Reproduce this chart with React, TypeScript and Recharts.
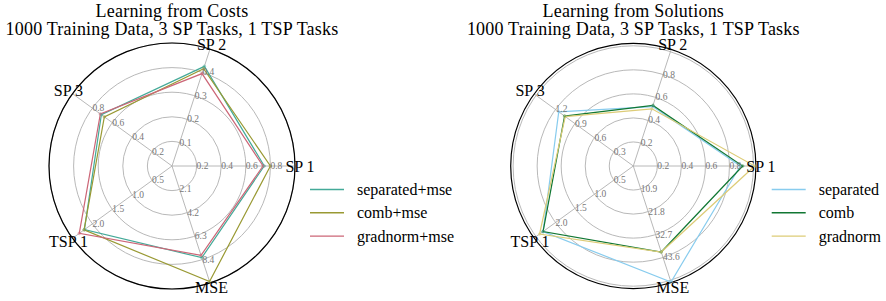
import React from "react";
import { RadarChart, Radar, PolarGrid, PolarAngleAxis, PolarRadiusAxis } from "recharts";

const categories = ["SP 1", "SP 2", "SP 3", "TSP 1", "MSE"];

// Learning from Costs
const costAxisMax = [1.0, 0.5, 1.0, 2.5, 10.5];
const costTickLabels = [
  ["0.2", "0.4", "0.6", "0.8"],
  ["0.1", "0.2", "0.3", "0.4"],
  ["0.2", "0.4", "0.6", "0.8"],
  ["0.5", "1.0", "1.5", "2.0"],
  ["2.1", "4.2", "6.3", "8.4"],
];
const costSeparated = [0.75, 0.426, 0.71, 2.2, 8.23];
const costComb = [0.8, 0.416, 0.68, 2.21, 10.37];
const costGradnorm = [0.74, 0.395, 0.72, 2.33, 8.02];

// Learning from Solutions
const solAxisMax = [1.0, 1.0, 1.5, 2.5, 54.5];
const solTickLabels = [
  ["0.2", "0.4", "0.6", "0.8"],
  ["0.2", "0.4", "0.6", "0.8"],
  ["0.3", "0.6", "0.9", "1.2"],
  ["0.5", "1.0", "1.5", "2.0"],
  ["10.9", "21.8", "32.7", "43.6"],
];
const solSeparated = [0.89, 0.52, 1.15, 2.32, 55.3];
const solComb = [0.91, 0.53, 1.06, 2.32, 41.0];
const solGradnorm = [1.01, 0.5, 1.05, 2.41, 41.0];

const gridFractions = [0.2, 0.4, 0.6, 0.8, 1.0];
const labelFractions = [0.2, 0.4, 0.6, 0.8];

// the chart runs clockwise from the right, so SP 1, MSE, TSP 1, SP 3, SP 2
// ends up counter-clockwise SP 1 -> SP 2 -> SP 3 -> TSP 1 -> MSE
const displayOrder = [0, 4, 3, 2, 1];

const FONT = "'Liberation Serif', 'Times New Roman', serif";

type Series = { key: string; name: string; color: string; values: number[] };

function buildRows(maxes: number[], series: Series[]) {
  return displayOrder.map((i) => {
    const row: Record<string, string | number> = { axis: categories[i] };
    series.forEach((s) => {
      row[s.key] = s.values[i] / maxes[i];
    });
    return row;
  });
}

const costSeries: Series[] = [
  { key: "sep", name: "separated+mse", color: "#44AA99", values: costSeparated },
  { key: "comb", name: "comb+mse", color: "#999933", values: costComb },
  { key: "grad", name: "gradnorm+mse", color: "#CC6677", values: costGradnorm },
];

const solSeries: Series[] = [
  { key: "sep", name: "separated", color: "#88CCEE", values: solSeparated },
  { key: "comb", name: "comb", color: "#117733", values: solComb },
  { key: "grad", name: "gradnorm", color: "#DDCC77", values: solGradnorm },
];

interface PanelProps {
  left: number;
  width: number;
  cx: number;
  cy: number;
  outerRadius: number;
  rMax: number;
  maxes: number[];
  tickLabels: string[][];
  series: Series[];
  title: string[];
  legendX: number;
}

function RadarPanel(p: PanelProps) {
  const rows = buildRows(p.maxes, p.series);
  // per-axis tick labels sit on each spoke at the grid rings
  const tickText = categories.flatMap((c, i) =>
    labelFractions.map((f, j) => {
      const r = (p.outerRadius * f) / p.rMax;
      const a = (72 * i * Math.PI) / 180;
      return {
        key: `${c}-${j}`,
        x: p.cx + r * Math.cos(a),
        y: p.cy - r * Math.sin(a),
        text: p.tickLabels[i][j],
      };
    })
  );
  return (
    <div style={{ position: "absolute", left: p.left, top: 0, width: p.width, height: 301 }}>
      <RadarChart
        width={p.width}
        height={301}
        data={rows}
        cx={p.cx}
        cy={p.cy}
        outerRadius={p.outerRadius}
        startAngle={0}
        endAngle={-360}
        margin={{ top: 0, right: 0, bottom: 0, left: 0 }}
      >
        <PolarGrid gridType="circle" stroke="#b0b0b0" strokeWidth={0.9} />
        <PolarRadiusAxis
          type="number"
          domain={[0, p.rMax]}
          ticks={gridFractions}
          tick={false}
          axisLine={false}
          tickLine={false}
        />
        {p.series.map((s) => (
          <Radar
            key={s.key}
            name={s.name}
            dataKey={s.key}
            stroke={s.color}
            strokeWidth={1.2}
            fill="none"
            fillOpacity={0}
            dot={{ r: 1.3, fill: s.color, stroke: s.color, strokeWidth: 0.5 }}
            isAnimationActive={false}
          />
        ))}
        <PolarAngleAxis
          dataKey="axis"
          axisLine={{ stroke: "#000", strokeWidth: 1.2 }}
          axisLineType="circle"
          tickLine={false}
          tickSize={5}
          tick={(tp: any) => (
            <text
              x={tp.x}
              y={tp.y}
              textAnchor="middle"
              dominantBaseline="central"
              fontFamily={FONT}
              fontSize={16}
              fill="#000"
            >
              {tp.payload.value}
            </text>
          )}
        />
      </RadarChart>
      <svg
        width={p.width}
        height={301}
        style={{ position: "absolute", left: 0, top: 0, pointerEvents: "none" }}
      >
        {tickText.map((t) => (
          <text
            key={t.key}
            x={t.x}
            y={t.y}
            textAnchor="start"
            dominantBaseline="central"
            fontFamily={FONT}
            fontSize={9.5}
            fill="#777"
          >
            {t.text}
          </text>
        ))}
        {p.title.map((t, i) => (
          <text
            key={t}
            x={p.cx}
            y={17 + i * 17.5}
            textAnchor="middle"
            fontFamily={FONT}
            fontSize={18}
            letterSpacing={0.2}
            fill="#000"
          >
            {t}
          </text>
        ))}
        {p.series.map((s, i) => (
          <g key={s.key}>
            <line
              x1={p.legendX}
              x2={p.legendX + 34}
              y1={189.5 + i * 23.3}
              y2={189.5 + i * 23.3}
              stroke={s.color}
              strokeWidth={1.4}
            />
            <text
              x={p.legendX + 47}
              y={189.5 + i * 23.3}
              dominantBaseline="central"
              fontFamily={FONT}
              fontSize={16}
              fill="#000"
            >
              {s.name}
            </text>
          </g>
        ))}
      </svg>
    </div>
  );
}

export default function App() {
  return (
    <div style={{ position: "fixed", left: 0, top: 0, width: 886, height: 301, background: "#fff" }}>
      <RadarPanel
        left={0}
        width={460}
        cx={172}
        cy={166}
        outerRadius={123}
        rMax={1.0}
        maxes={costAxisMax}
        tickLabels={costTickLabels}
        series={costSeries}
        title={["Learning from Costs", "1000 Training Data, 3 SP Tasks, 1 TSP Tasks"]}
        legendX={310}
      />
      <RadarPanel
        left={460}
        width={426}
        cx={173.3}
        cy={166}
        outerRadius={122.6}
        rMax={1.02}
        maxes={solAxisMax}
        tickLabels={solTickLabels}
        series={solSeries}
        title={["Learning from Solutions", "1000 Training Data, 3 SP Tasks, 1 TSP Tasks"]}
        legendX={311.7}
      />
    </div>
  );
}
